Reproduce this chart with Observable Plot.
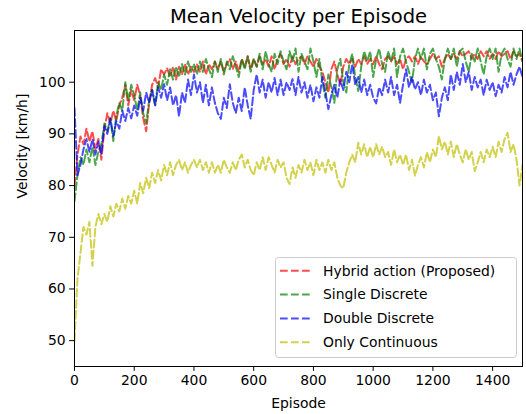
<!DOCTYPE html>
<html>
<head>
<meta charset="utf-8">
<script src="https://cdn.jsdelivr.net/npm/d3@7"></script>
<script src="https://cdn.jsdelivr.net/npm/@observablehq/plot@0.6"></script>
<style>
  html, body { margin: 0; padding: 0; background: white; }
</style>
</head>
<body>
<div id="chart"></div>
<script>
const title = "Mean Velocity per Episode";
const xLabel = "Episode";
const yLabel = "Velocity [km/h]";
const seriesNames = ["Hybrid action (Proposed)", "Single Discrete", "Double Discrete", "Only Continuous"];
const seriesColors = ["rgba(255,0,0,0.7)", "rgba(0,128,0,0.7)", "rgba(0,0,255,0.7)", "rgba(191,191,0,0.7)"];
const xTicks = [0, 200, 400, 600, 800, 1000, 1200, 1400];
const yTicks = [50, 60, 70, 80, 90, 100];

// episode index of each sample (every 10 episodes)
const episodes = d3.range(0, 1501, 10);

const hybrid = [
  80, 86, 89.5, 88, 91, 88.5, 90.5, 87, 89, 85,
  91, 94, 92, 94.5, 92.5, 95.5, 97, 99.5, 95.5, 98.5,
  96.5, 99.5, 97.5, 93, 90.5, 96, 99.5, 100.8, 99, 102.5,
  101.5, 102.7, 101, 103, 100.5, 103, 101.5, 103.5, 101.5, 103,
  102, 103.5, 102, 104, 101.5, 103.5, 102.5, 104, 102.5, 104,
  102, 103.5, 104.5, 102.5, 104, 102, 104.5, 103, 105, 102.5,
  104.5, 103, 105, 103.5, 104.5, 103, 105, 102.5, 104.5, 105.5,
  103.5, 104.5, 103, 105, 103.5, 104.5, 105, 103.5, 105, 104,
  103, 104.5, 103, 102, 100, 98, 102.5, 104, 101.5, 99.5,
  103, 104.5, 103.5, 104.5, 103, 104.5, 103.5, 105, 103.5, 104.5,
  103.5, 105, 103.5, 102.5, 104.5, 105, 104, 105, 103.5, 104.5,
  102.5, 104.5, 105, 104, 105, 103.5, 105, 104, 103.5, 104.5,
  105.5, 104.5, 105, 103, 104.5, 105.5, 104.5, 105.5, 104.5, 106,
  105, 105.5, 106, 104.5, 105.5, 104.5, 106, 105, 106, 104.5,
  105.5, 104.5, 106, 105, 105.5, 106, 104.5, 106, 105, 105.5,
  104
];
const singleDiscrete = [
  77, 82, 85.5, 84, 87, 84.5, 87.5, 84, 86.5, 88,
  92, 90.5, 93, 88.6, 93.5, 96, 94.5, 100, 96.5, 99.5,
  97.5, 94.5, 98, 94, 92, 96.5, 98.5, 95.5, 100, 98.5,
  101.5, 99.5, 102.5, 100.5, 103, 101, 103.5, 101.5, 104, 102,
  103.5, 101.5, 104, 102, 104.5, 102.5, 101, 104, 102, 104.5,
  101.5, 104, 102.5, 105, 103, 101, 104.5, 102.5, 105, 102,
  104.5, 103, 105.5, 102.5, 106, 103.5, 102, 105.5, 103.5, 106,
  104, 102.5, 106, 104, 106.5, 102, 105.5, 104, 102.5, 106.5,
  104, 101, 104.5, 100, 97, 101.5, 99, 96, 102.5, 104.5,
  100, 98, 103.5, 105.5, 101, 98.3, 103, 106, 104, 106,
  101, 104.5, 106.5, 103.5, 102, 106, 104, 106.5, 101, 105,
  106.5, 104, 102, 100, 104.5, 106.5, 104.5, 106.5, 102.5, 105.5,
  106.5, 104.5, 103, 100.5, 104.5, 106.5, 104.5, 106.5, 103, 106,
  106.5, 104, 102, 105.5, 104, 106.5, 104, 101.5, 105, 106.5,
  104.5, 106.5, 102, 105.5, 106.5, 104.5, 103, 106.5, 104.5, 106.5,
  104
];
const doubleDiscrete = [
  95, 82, 84, 87, 89, 86.5, 89, 86, 88.5, 86,
  91.5, 90, 93, 89.5, 92.5, 91, 94.5, 92.5, 95, 93,
  95.5, 93.5, 97, 94.5, 98, 96, 98.5, 95.5, 99, 97,
  99.6, 96.5, 99, 95.5, 97.5, 93.4, 98, 96, 100.5, 97.5,
  101.5, 98, 100, 96, 99.5, 95.5, 99, 96, 94, 92.9,
  97, 95, 99.6, 96, 94, 97, 94.4, 99, 95.5, 92.9,
  98.5, 101.5, 98, 100.5, 97, 100, 98, 100.8, 97.5, 100.5,
  97.5, 100, 98.5, 100.6, 97.5, 101, 98, 100, 97, 99.5,
  96.3, 99, 97, 101, 98, 94.8, 97.5, 99.5, 97, 100.5,
  98.5, 102, 100, 103.5, 99.5, 101, 98, 100.5, 97.5, 99.5,
  97, 95.9, 99, 97.5, 100.5, 98, 101, 97.5, 99.5, 96,
  99.5, 102.5, 99, 101, 98.6, 100, 97.5, 100.5, 98, 99.5,
  96.5, 98, 93.4, 97, 99, 96.5, 101.5, 98.5, 102, 99.5,
  103.5, 100, 102, 98.5, 101, 99, 100.5, 97.5, 100.5, 98.5,
  100, 97.3, 99.5, 98, 101, 99, 102, 99.5, 101.5, 103,
  101
];
const onlyContinuous = [
  50, 62, 67, 72, 70.5, 73, 64.5, 72, 74.5, 72.5,
  74.5, 73, 76, 74, 76.5, 75, 77.5, 75.5, 78, 76.5,
  79, 76.5, 80.5, 78.5, 81.5, 79.5, 82.5, 80.5, 83, 81,
  84, 82, 84.5, 82, 84, 85, 83, 84.5, 82.5, 84,
  85, 83.5, 85, 83, 84.5, 82.5, 84.5, 82.5, 84, 82.5,
  85, 83.5, 82.5, 84.5, 83, 85, 86, 83.5, 85, 83,
  82, 84.5, 83, 85.5, 83, 85.5, 84, 82.5, 85, 83.5,
  84.5, 81.5, 80.3, 83.5, 81.5, 84, 82.5, 85, 83, 84.5,
  82, 85, 83, 84.5, 82.5, 85, 83, 84.5, 81.5, 80,
  79.5, 82.5, 84.5, 86, 84.5, 88.3, 86, 88, 85.5, 87.5,
  85.5, 88, 86, 87.5, 85.5, 86.5, 84, 87, 84.5, 86,
  84, 86, 83, 85, 81.9, 84, 85.5, 83.5, 86.5, 84.5,
  87, 85.5, 89.6, 87, 88.5, 86, 88.5, 85.5, 88, 86,
  84.5, 87, 85, 86.5, 82.8, 84.5, 86.5, 84.5, 87, 85.5,
  87.5, 85.5, 88.5, 86.5, 89, 90.2, 86.5, 88, 85, 80,
  84
];

const allSeries = [hybrid, singleDiscrete, doubleDiscrete, onlyContinuous];
const rows = [];
allSeries.forEach((vals, si) => {
  vals.forEach((v, i) => rows.push({episode: episodes[i], value: v, series: seriesNames[si]}));
});

const font = "DejaVu Sans, Liberation Sans, sans-serif";
const dash = "7.7,3.3";

const chart = Plot.plot({
  width: 526,
  height: 414,
  marginLeft: 74,
  marginRight: 4,
  marginTop: 30,
  marginBottom: 48,
  style: {fontFamily: font, fontSize: "13.9px", color: "#000", background: "white"},
  x: {domain: [0, 1500], ticks: xTicks, label: null},
  y: {domain: [45, 110], ticks: yTicks, label: null},
  color: {domain: seriesNames, range: seriesColors},
  marks: [
    Plot.axisX({ticks: xTicks, tickSize: 4.9, tickPadding: 4, fontSize: 13.9, label: null, stroke: "#000", tickFormat: d3.format("d")}),
    Plot.axisY({ticks: yTicks, tickSize: 4.9, tickPadding: 4, fontSize: 13.9, label: null, stroke: "#000", tickFormat: d3.format("d")}),
    ...seriesNames.map(name => Plot.line(rows.filter(r => r.series === name), {
      x: "episode", y: "value", stroke: "series",
      strokeWidth: 2, strokeDasharray: dash, clip: true
    })),
    Plot.frame({stroke: "#000", strokeWidth: 1}),
    Plot.text([title], {frameAnchor: "top", lineAnchor: "middle", dy: -14, fontSize: 19.5, fill: "#000"}),
    Plot.text([xLabel], {frameAnchor: "bottom", lineAnchor: "middle", dy: 37, fontSize: 13.9, fill: "#000"}),
    Plot.text([yLabel], {frameAnchor: "left", dx: -52, rotate: -90, fontSize: 13.9, fill: "#000"})
  ]
});

document.getElementById("chart").appendChild(chart);

// legend (lower right, matplotlib style)
const svg = d3.select(chart);
const lg = svg.append("g").attr("font-family", font).attr("font-size", 13.9).attr("text-anchor", "start");
lg.append("rect")
  .attr("x", 275.5).attr("y", 257.5).attr("width", 241).attr("height", 100)
  .attr("rx", 3).attr("fill", "rgba(255,255,255,0.8)").attr("stroke", "#cccccc").attr("stroke-width", 1);
const rowY = [270.7, 294.5, 318.5, 342.3];
seriesNames.forEach((name, i) => {
  lg.append("line")
    .attr("x1", 280).attr("x2", 310).attr("y1", rowY[i]).attr("y2", rowY[i])
    .attr("stroke", seriesColors[i]).attr("stroke-width", 2).attr("stroke-dasharray", dash);
  lg.append("text")
    .attr("x", 323).attr("y", rowY[i]).attr("dy", "0.35em").attr("text-anchor", "start")
    .attr("fill", "#000").text(name);
});
</script>
</body>
</html>
